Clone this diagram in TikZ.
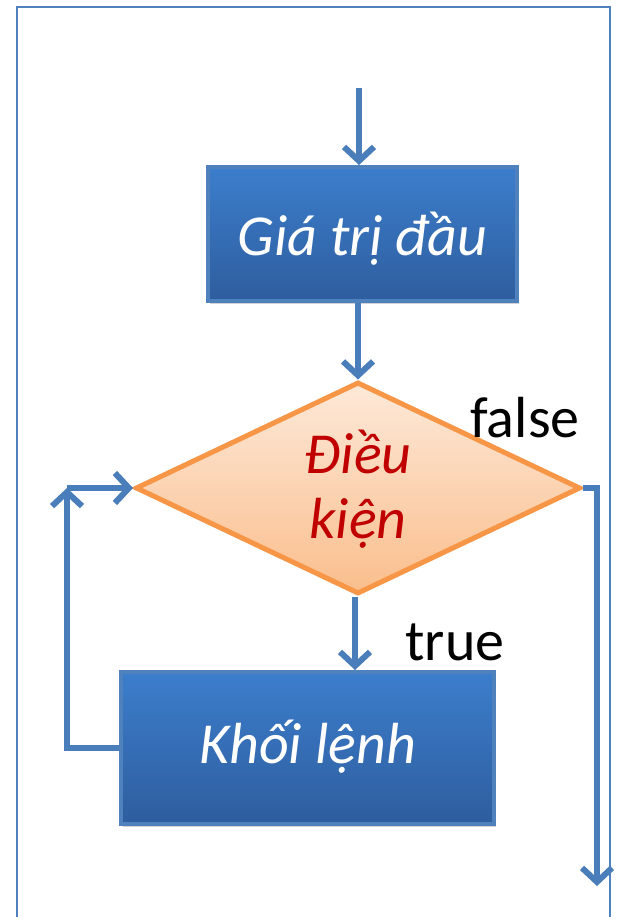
\documentclass[tikz,border=0pt]{standalone}
\usepackage{fontspec}
\setmainfont{Carlito}
\usetikzlibrary{shapes.geometric,arrows.meta,shadows}
\definecolor{lineblue}{RGB}{74,126,187}
\definecolor{boxtop}{RGB}{60,126,204}
\definecolor{boxbot}{RGB}{46,93,158}
\definecolor{boxedge}{RGB}{79,129,189}
\definecolor{dtop}{RGB}{253,233,217}
\definecolor{dbot}{RGB}{250,190,140}
\definecolor{dedge}{RGB}{247,150,70}
\definecolor{dtext}{RGB}{192,0,0}
\definecolor{framec}{RGB}{79,129,189}
\begin{document}
\begin{tikzpicture}[x=1pt,y=-1pt,
  conn/.style={draw=lineblue,line width=6pt},
  flow/.style={conn,-{Straight Barb[length=14pt,width=30pt,line width=6pt]}},
  bluebox/.style={rectangle,draw=boxedge,line width=4pt,top color=boxtop,bottom color=boxbot,
    text=white,font=\fontsize{58}{66}\selectfont\itshape,inner sep=0pt,
    drop shadow={opacity=0.35,shadow xshift=2pt,shadow yshift=-3pt}},
  decision/.style={diamond,draw=dedge,line width=5pt,top color=dtop,bottom color=dbot,inner sep=0pt},
  lbl/.style={font=\fontsize{58}{65}\selectfont,text=black,anchor=base,inner sep=0pt}
]
\useasboundingbox (0,0) rectangle (616,917);
\fill[white] (0,0) rectangle (616,917);
\draw[framec,line width=2pt] (17,917) -- (17,7) -- (610,7) -- (610,917);

\coordinate (start) at (359,88);
\node[bluebox,minimum width=309pt,minimum height=134pt,text height=42pt,text depth=0pt] (init) at (362.5,234) {Giá trị đầu};
\node[decision,minimum width=445pt,minimum height=212pt] (cond) at (358,488) {};
\node[lbl,text=dtext,font=\fontsize{58}{65}\selectfont\itshape,align=center] (condtext) at (358,538) {Điều\\kiện};
\node[bluebox,minimum width=373pt,minimum height=152pt,text height=30pt,text depth=0pt] (body) at (307.5,748) {Khối lệnh};

\node[lbl] (false) at (525,437) {false};
\node[lbl] (true) at (455,660) {true};

\coordinate (lc) at (67,488);
\coordinate (rc) at (597,488);
\coordinate (rend) at (597,886);

\draw[flow] (start) -- (start |- init.north);
\draw[flow] (init.south -| cond.north) -- (cond.north);
\draw[flow] (cond.south -| 355,0) -- (body.north -| 355,0);
\draw[flow] (body.west) -| (lc);
\draw[flow] (lc) -- (cond.west);
\draw[flow] (cond.east) -- (rc) -- (rend);
\end{tikzpicture}
\end{document}
